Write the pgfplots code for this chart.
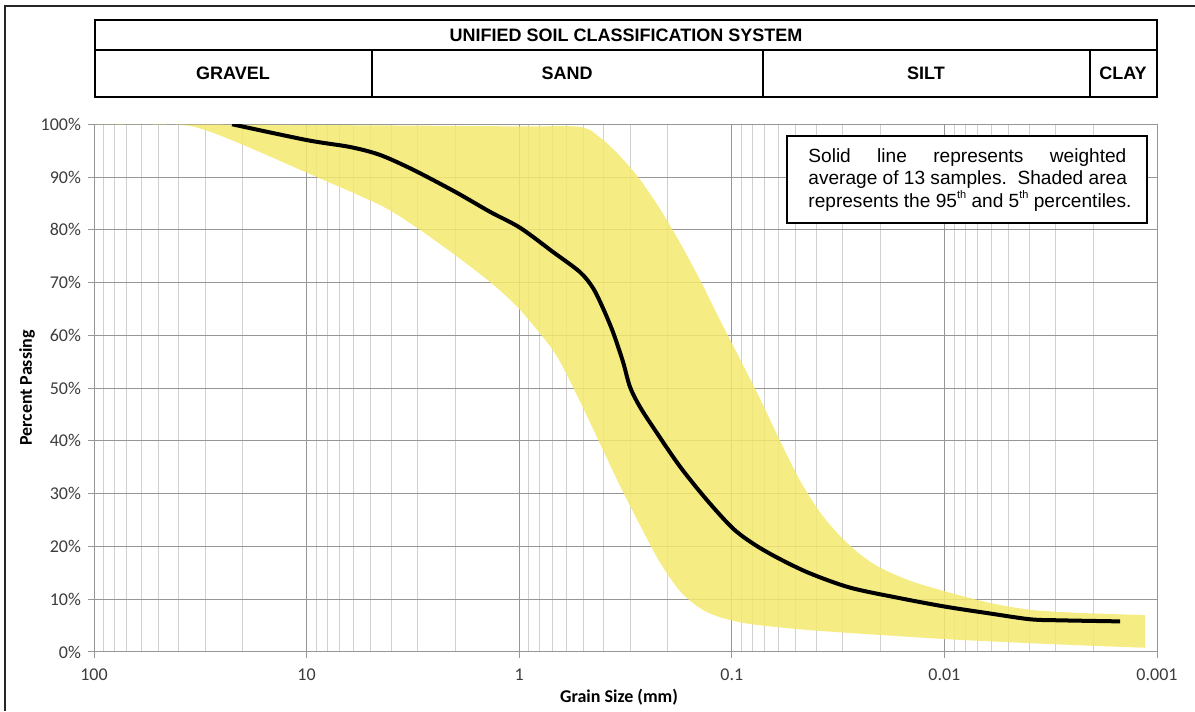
\documentclass[border=0pt]{standalone}
\usepackage{pgfplots}
\pgfplotsset{compat=1.18}
\usepgfplotslibrary{fillbetween}
\usepackage{fontspec}
\setmainfont{Liberation Sans}
\newfontfamily\calibri{Carlito}
\definecolor{band}{RGB}{244,233,110}
\definecolor{majgrid}{RGB}{150,150,150}
\definecolor{mingrid}{RGB}{208,208,208}
\definecolor{ticklab}{RGB}{60,60,60}
\newcommand{\supth}[1]{\raisebox{0.85ex}{\fontsize{5.5}{5.5}\selectfont #1}}
\begin{document}
\begin{tikzpicture}
\begin{scope}[x=0.5pt,y=-0.5pt]
\useasboundingbox (0,0) rectangle (1195,711);
\draw[line width=1pt, black!85] (5,711) -- (5,6) -- (1195,6);
\end{scope}
\begin{axis}[
  at={(47pt,-326pt)}, anchor=south west,
  scale only axis, width=531.5pt, height=263.85pt,
  xmode=log, x dir=reverse, xmin=0.001, xmax=100, ymin=0, ymax=100,
  xtick={100,10,1,0.1,0.01,0.001},
  xticklabels={100,10,1,0.1,0.01,0.001},
  minor xtick={20,30,40,50,60,70,80,90,2,3,4,5,6,7,8,9,0.2,0.3,0.4,0.5,0.6,0.7,0.8,0.9,0.02,0.03,0.04,0.05,0.06,0.07,0.08,0.09,0.002,0.003,0.004,0.005,0.006,0.007,0.008,0.009},
  ytick={0,10,20,30,40,50,60,70,80,90,100},
  yticklabels={0\%,10\%,20\%,30\%,40\%,50\%,60\%,70\%,80\%,90\%,100\%},
  xmajorgrids, xminorgrids, ymajorgrids,
  major grid style={majgrid, line width=0.5pt},
  minor grid style={mingrid, line width=0.5pt},
  axis line style={majgrid, line width=0.5pt},
  tick align=outside, tick pos=left,
  major tick length=3pt, minor tick length=0pt,
  tick style={majgrid, line width=0.5pt},
  ticklabel style={font=\calibri\fontsize{9}{10}\selectfont, text=ticklab},
  xticklabel style={yshift=-2pt},
]
\addplot[name path=U, draw=none, smooth, tension=0.5] coordinates {
(100,100) (20,99.9) (5,99.8) (1,99.6) (0.518,99.5) (0.417,97.5) (0.336,94.0)
(0.270,89.5) (0.218,84.0) (0.175,77.5) (0.141,70.5) (0.114,63.0) (0.0915,55.5)
(0.0737,48.0) (0.0593,40.0) (0.0478,32.5) (0.0385,26.5) (0.0310,22.0)
(0.0249,18.5) (0.0201,16.0) (0.0145,13.5) (0.00993,11.5) (0.00611,9.3)
(0.00395,8.0) (0.00230,7.4) (0.00114,7.0)};
\addplot[name path=L, draw=none, smooth, tension=0.5] coordinates {
(100,100) (40.3,99.9) (30.0,98.9) (19.9,96.1) (9.95,90.8) (4.52,84.7) (3.03,80.4)
(2.00,75.2) (1.37,70.1) (1.01,65.2) (0.740,58.7) (0.643,55.0) (0.518,47.5)
(0.417,39.5) (0.336,31.5) (0.270,24.0) (0.218,17.0) (0.175,11.5) (0.141,8.3)
(0.114,6.6) (0.0821,5.3) (0.0478,4.3) (0.0278,3.6) (0.00942,2.4) (0.00318,1.5)
(0.00114,0.8)};
\addplot[band, fill opacity=0.85] fill between[of=U and L];
\addplot[black, line width=2pt, smooth, tension=0.5] coordinates {
(22.4,100) (9.95,97.0) (6.25,95.7) (4.52,94.2) (3.16,91.4) (2.00,87.2) (1.37,83.4)
(0.991,80.4) (0.693,75.8) (0.518,72.0) (0.450,69.0) (0.404,65.2) (0.362,60.6)
(0.325,55.0) (0.301,50.2) (0.270,46.4) (0.225,41.5) (0.175,35.1) (0.131,28.8)
(0.0987,23.4) (0.0778,20.3) (0.0593,17.6) (0.0429,14.9) (0.0278,12.2) (0.0162,10.2)
(0.00993,8.6) (0.00611,7.3) (0.00395,6.2) (0.00286,6.0) (0.00149,5.8)};
\end{axis}
\begin{scope}[x=0.5pt,y=-0.5pt]
% header table
\draw[line width=1pt] (95,20) rectangle (1157,97);
\draw[line width=1pt] (95,50) -- (1157,50);
\draw[line width=1pt] (372,50) -- (372,97);
\draw[line width=1pt] (763,50) -- (763,97);
\draw[line width=1pt] (1090,50) -- (1090,97);
\begin{scope}[every node/.style={font=\bfseries\fontsize{9}{10}\selectfont, inner sep=0}]
\node at (626,35) {UNIFIED SOIL CLASSIFICATION SYSTEM};
\node at (233,73) {GRAVEL};
\node at (567,73) {SAND};
\node at (926,73) {SILT};
\node at (1123,73) {CLAY};
\end{scope}
% note box
\draw[line width=0.75pt, fill=white] (787,136) rectangle (1147,223);
\node[font=\fontsize{9.55}{11.25}\selectfont, align=left, inner sep=0, anchor=west] at (808,180)
 {\makebox[159pt][s]{Solid line represents weighted}\\
  \mbox{average of 13 samples.\ \ Shaded area}\\
  \mbox{represents the 95\supth{th} and 5\supth{th} percentiles.}};
% axis labels
\node[font=\calibri\bfseries\fontsize{9}{10}\selectfont, rotate=90] at (27,388) {Percent Passing};
\node[font=\calibri\bfseries\fontsize{9}{10}\selectfont] at (619,697) {Grain Size (mm)};
\end{scope}
\end{tikzpicture}
\end{document}
